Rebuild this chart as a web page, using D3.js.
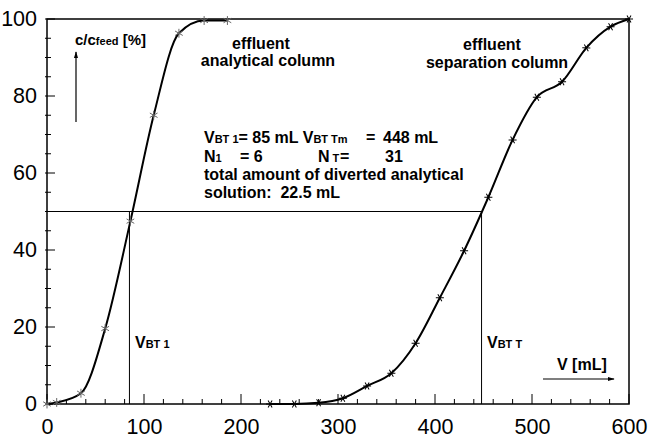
<!DOCTYPE html>
<html>
<head>
<meta charset="utf-8">
<script src="https://cdn.jsdelivr.net/npm/d3@7"></script>
<style>
  body { margin: 0; background: #fff; }
  svg { display: block; font-family: "Liberation Sans", Arial, sans-serif; }
  .lbl { font-size: 16px; font-weight: bold; }
  .sub { font-size: 11px; }
</style>
</head>
<body>
<div id="chart"></div>
<script>
// data
var analVol  = [0, 10, 35, 60, 86, 110, 136, 162, 186];
var analConc = [0, 0.4, 2.8, 19.6, 47.5, 75, 96.3, 99.6, 99.6];
var sepVol   = [230, 255, 280, 305, 330, 355, 380, 405, 430, 455, 480, 505, 531, 556, 581, 600];
var sepConc  = [0, 0, 0.3, 1.5, 4.7, 8, 15.8, 27.6, 39.8, 53.7, 68.6, 79.7, 83.7, 92.5, 98, 100];
var xTicks = [0, 100, 200, 300, 400, 500, 600];
var yTicks = [0, 20, 40, 60, 80, 100];
var vbt1 = 85, vbtT = 448, half = 50;

var W = 650, H = 441;
var margin = {top: 19, right: 21, bottom: 37, left: 47},
    width = W - margin.left - margin.right,
    height = H - margin.top - margin.bottom;

var svg = d3.select("#chart").append("svg")
    .attr("width", W).attr("height", H)
  .append("g")
    .attr("transform", "translate(" + margin.left + "," + margin.top + ")");

var x = d3.scaleLinear().domain([0, 600]).range([0, width]);
var y = d3.scaleLinear().domain([0, 100]).range([height, 0]);

// arrow marker
svg.append("defs").append("marker")
    .attr("id", "arr").attr("viewBox", "0 0 10 10")
    .attr("refX", 9).attr("refY", 5)
    .attr("markerWidth", 6).attr("markerHeight", 6)
    .attr("orient", "auto")
  .append("path").attr("d", "M0,2L10,5L0,8Z").attr("fill", "#000");

// minor ticks (inside)
svg.append("g").selectAll("line")
  .data(d3.range(0, 601, 20))
  .enter().append("line")
    .attr("x1", function(d) { return x(d); }).attr("x2", function(d) { return x(d); })
    .attr("y1", height).attr("y2", function(d) { return height - (d % 100 === 0 ? 10 : 5); })
    .attr("stroke", "#000").attr("stroke-width", 1);
svg.append("g").selectAll("line")
  .data(d3.range(0, 101, 5))
  .enter().append("line")
    .attr("y1", function(d) { return y(d); }).attr("y2", function(d) { return y(d); })
    .attr("x1", -2).attr("x2", function(d) { return d % 20 === 0 ? 8 : 4; })
    .attr("stroke", "#000").attr("stroke-width", 1);

// axes labels
var xAxis = svg.append("g")
    .attr("transform", "translate(0," + height + ")")
    .call(d3.axisBottom(x).tickValues(xTicks).tickSize(0).tickPadding(15));
var yAxis = svg.append("g")
    .call(d3.axisLeft(y).tickValues(yTicks).tickSize(0).tickPadding(10));
[xAxis, yAxis].forEach(function(a) {
  a.select(".domain").remove();
  a.selectAll("text").attr("font-size", 21.5)
    .attr("font-family", "'Liberation Sans', Arial, sans-serif").attr("fill", "#000");
});

// frame
svg.append("rect")
    .attr("x", 0).attr("y", 0).attr("width", width).attr("height", height)
    .attr("fill", "none").attr("stroke", "#000").attr("stroke-width", 1.5);

// reference lines
svg.append("line")
    .attr("x1", x(0)).attr("x2", x(vbtT)).attr("y1", y(half)).attr("y2", y(half))
    .attr("stroke", "#000").attr("stroke-width", 1);
[vbt1, vbtT].forEach(function(v) {
  svg.append("line")
      .attr("x1", x(v)).attr("x2", x(v)).attr("y1", y(half)).attr("y2", y(0))
      .attr("stroke", "#000").attr("stroke-width", 1);
});

// curves
var line = d3.line()
    .x(function(d) { return x(d[0]); })
    .y(function(d) { return y(d[1]); })
    .curve(d3.curveMonotoneX);
var anal = d3.zip(analVol, analConc);
var sep = d3.zip(sepVol, sepConc);

svg.append("path").datum(anal).attr("d", line)
    .attr("fill", "none").attr("stroke", "#000").attr("stroke-width", 2);
svg.append("path").datum(sep).attr("d", line)
    .attr("fill", "none").attr("stroke", "#000").attr("stroke-width", 2);

svg.append("g").selectAll("path")
  .data(anal).enter().append("path")
    .attr("d", d3.symbol().type(d3.symbolAsterisk).size(55))
    .attr("transform", function(d) { return "translate(" + x(d[0]) + "," + y(d[1]) + ")"; })
    .attr("fill", "none").attr("stroke", "#666").attr("stroke-width", 1);
svg.append("g").selectAll("path")
  .data(sep).enter().append("path")
    .attr("d", d3.symbol().type(d3.symbolAsterisk).size(45))
    .attr("transform", function(d) { return "translate(" + x(d[0]) + "," + y(d[1]) + ") rotate(30)"; })
    .attr("fill", "none").attr("stroke", "#000").attr("stroke-width", 1);

// annotations (page coordinates)
var page = d3.select("svg").append("g");
function label(px, py, parts, anchor) {
  var t = page.append("text").attr("class", "lbl")
      .attr("x", px).attr("y", py).attr("text-anchor", anchor || "start");
  parts.forEach(function(p) {
    var s = t.append("tspan").text(p[0]);
    if (p[1]) s.attr("class", "sub");
    if (p[2] != null) s.attr("x", p[2]);
  });
  return t;
}

label(75, 45, [["c/c"], ["feed", 1], [" [%]"]]).style("font-size", "15px");
page.append("line").attr("x1", 76).attr("x2", 76).attr("y1", 122).attr("y2", 52)
    .attr("stroke", "#000").attr("stroke-width", 1.2).attr("marker-end", "url(#arr)");

label(261, 49, [["effluent"]], "middle");
label(268, 66, [["analytical column"]], "middle");
label(492, 50, [["effluent"]], "middle");
label(497, 68, [["separation column"]], "middle");

label(204, 143, [["V"], ["BT 1", 1], ["= 85 mL V"], ["BT Tm", 1], ["=", 0, 366], ["448 mL", 0, 383]]);
label(204, 162, [["N"], ["1", 1], ["= 6", 0, 240], ["N", 0, 318], [" T", 1], ["=", 0, 340], ["31", 0, 385]]);
label(204, 180, [["total amount of diverted analytical"]]);
label(204, 198, [["solution:  22.5 mL"]]).attr("xml:space", "preserve");

label(135, 348, [["V"], ["BT 1", 1]]);
label(487, 348, [["V"], ["BT T", 1]]);
label(557, 370, [["V [mL]"]]);
page.append("line").attr("x1", 543).attr("x2", 614).attr("y1", 379).attr("y2", 379)
    .attr("stroke", "#000").attr("stroke-width", 1.2).attr("marker-end", "url(#arr)");
</script>
</body>
</html>
